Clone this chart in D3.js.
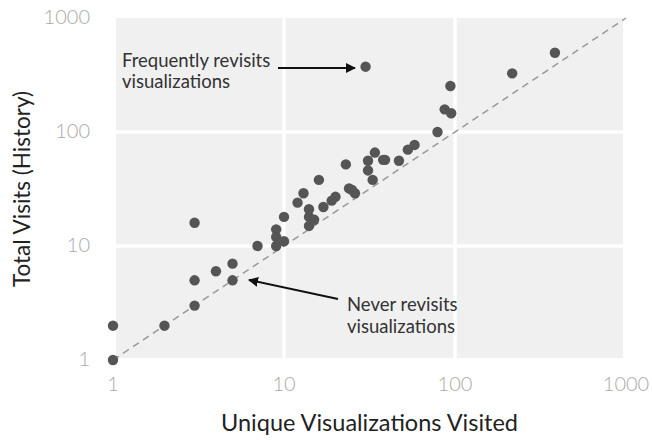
<!DOCTYPE html>
<html>
<head>
<meta charset="utf-8">
<script src="https://cdn.jsdelivr.net/npm/d3@7"></script>
<style>
  body { margin: 0; background: #fff; }
  text { font-family: Lato, "Noto Sans", sans-serif; }
</style>
</head>
<body>
<svg id="chart"></svg>
<script>
// unique visualizations visited (x) vs total visits (y)
const uniqueVisited = [1, 1, 2, 3, 3, 3, 4, 5, 5, 7, 9, 9, 9, 10, 10, 12, 13, 14, 14, 15, 14, 16, 17, 19, 20,
    23, 24, 25, 26, 30, 31, 31, 33, 34, 38, 39, 47, 53, 58, 79, 87, 95, 94, 216, 384];
const totalVisits = [1, 2, 2, 3, 5, 16, 6, 5, 7, 10, 10, 12, 14, 11, 18, 24, 29, 15, 18, 17, 21, 38, 22, 25, 27,
    52, 32, 31, 29, 374, 46, 56, 38, 66, 57, 57, 56, 70, 77, 100, 158, 146, 253, 327, 496];
const tickValues = [1, 10, 100, 1000];
const domain = [1, 1000];

const width = 652, height = 440;
const svg = d3.select("#chart").attr("width", width).attr("height", height);

const x = d3.scaleLog().domain(domain).range([113, 626]);
const y = d3.scaleLog().domain(domain).range([360, 18]);

// plot background
svg.append("rect")
    .attr("x", x(1) + 3)
    .attr("y", y(1000))
    .attr("width", x(1000) - x(1) - 6)
    .attr("height", y(1) - y(1000) - 2)
    .attr("fill", "#f0f0f0");

// white grid lines
const grid = svg.append("g").attr("stroke", "#fff").attr("stroke-width", 3.5);
grid.selectAll("line.v")
    .data([10, 100])
    .join("line")
    .attr("x1", d => x(d)).attr("x2", d => x(d))
    .attr("y1", y(1000)).attr("y2", y(1));
grid.selectAll("line.h")
    .data([10, 100])
    .join("line")
    .attr("y1", d => y(d)).attr("y2", d => y(d))
    .attr("x1", x(1)).attr("x2", x(1000));

// y = x reference
svg.append("line")
    .attr("x1", x(1)).attr("y1", y(1))
    .attr("x2", x(1000)).attr("y2", y(1000))
    .attr("stroke", "#999")
    .attr("stroke-width", 1.5)
    .attr("stroke-dasharray", "7,5");

// tick labels
svg.append("g").selectAll("text")
    .data(tickValues)
    .join("text")
    .attr("x", d => x(d))
    .attr("y", 386)
    .attr("text-anchor", "middle")
    .attr("dominant-baseline", "middle")
    .attr("fill", "#aaa")
    .style("font-size", "20px")
    .style("font-weight", 300)
    .text(d => d);

svg.append("g").selectAll("text")
    .data(tickValues)
    .join("text")
    .attr("x", 90)
    .attr("y", d => y(d) + 1)
    .attr("text-anchor", "end")
    .attr("dominant-baseline", "middle")
    .attr("fill", "#aaa")
    .style("font-size", "20px")
    .style("font-weight", 300)
    .text(d => d);

// axis titles
svg.append("text")
    .attr("x", (x(1) + x(1000)) / 2)
    .attr("y", 425)
    .attr("text-anchor", "middle")
    .attr("dominant-baseline", "middle")
    .attr("fill", "#222")
    .style("font-size", "23.5px")
    .text("Unique Visualizations Visited");

svg.append("text")
    .attr("transform", "translate(24,189) rotate(-90)")
    .attr("text-anchor", "middle")
    .attr("dominant-baseline", "middle")
    .attr("fill", "#222")
    .style("font-size", "22.5px")
    .text("Total Visits (History)");

// points
svg.append("g").selectAll("circle")
    .data(uniqueVisited.map((v, i) => [v, totalVisits[i]]))
    .join("circle")
    .attr("cx", d => x(d[0]))
    .attr("cy", d => y(d[1]))
    .attr("r", 5.2)
    .attr("fill", "#555");

// annotations
svg.append("defs").append("marker")
    .attr("id", "head")
    .attr("viewBox", "0 0 10 10")
    .attr("refX", 9).attr("refY", 5)
    .attr("markerWidth", 5).attr("markerHeight", 5)
    .attr("orient", "auto")
    .append("path")
    .attr("d", "M0,0L10,5L0,10z")
    .attr("fill", "#111");

const notes = svg.append("g").attr("fill", "#333").style("font-size", "18.5px");
notes.append("text").attr("x", 122).attr("y", 62).attr("dominant-baseline", "middle").text("Frequently revisits");
notes.append("text").attr("x", 122).attr("y", 83).attr("dominant-baseline", "middle").text("visualizations");
notes.append("text").attr("x", 347).attr("y", 306).attr("dominant-baseline", "middle").text("Never revisits");
notes.append("text").attr("x", 347).attr("y", 328).attr("dominant-baseline", "middle").text("visualizations");

svg.append("line")
    .attr("x1", 278).attr("y1", 68).attr("x2", 355).attr("y2", 68)
    .attr("stroke", "#111").attr("stroke-width", 2)
    .attr("marker-end", "url(#head)");
svg.append("line")
    .attr("x1", 338).attr("y1", 299).attr("x2", 249).attr("y2", 280)
    .attr("stroke", "#111").attr("stroke-width", 2)
    .attr("marker-end", "url(#head)");
</script>
</body>
</html>
